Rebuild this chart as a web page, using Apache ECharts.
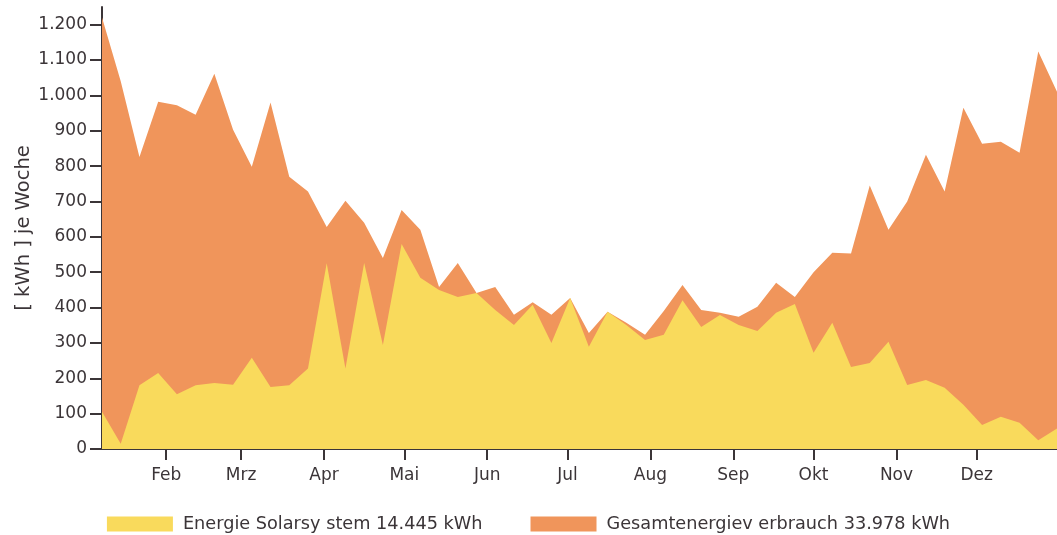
<!DOCTYPE html>
<html>
<head>
<meta charset="utf-8">
<script src="https://cdn.jsdelivr.net/npm/echarts@6/dist/echarts.min.js"></script>
<style>
  html, body { margin: 0; padding: 0; background: #fff; }
  #chart { width: 1057px; height: 535px; }
</style>
</head>
<body>
<div id="chart"></div>
<script>
// day of year (Jan 1 = 0) of each weekly value
const weekDays = [7, 14, 21, 28, 35, 42, 49, 56, 63, 70, 77, 84, 91, 98, 105, 112, 119, 126,
  133, 140, 147, 154, 161, 168, 175, 182, 189, 196, 203, 210, 217, 224, 231, 238, 245, 252,
  259, 266, 273, 280, 287, 294, 301, 308, 315, 322, 329, 336, 343, 350, 357, 364];

// kWh per week
const solar = [105, 15, 180, 215, 155, 180, 187, 182, 258, 175, 180, 228, 525, 228, 526, 294,
  580, 484, 450, 430, 441, 393, 351, 408, 300, 427, 289, 388, 351, 308, 323, 421, 345, 379,
  351, 334, 385, 410, 272, 357, 232, 243, 303, 181, 195, 173, 125, 68, 91, 74, 25, 58];

const total = [1220, 1040, 826, 982, 972, 945, 1061, 903, 798, 980, 770, 728, 628, 702, 640,
  540, 676, 620, 458, 526, 441, 458, 380, 415, 380, 427, 328, 388, 357, 323, 390, 464, 393,
  385, 374, 402, 470, 430, 500, 555, 553, 745, 620, 700, 832, 728, 965, 863, 869, 838, 1124, 1010];

const monthStarts = [31, 59, 90, 120, 151, 181, 212, 243, 273, 304, 334];
const monthNames = ['Feb', 'Mrz', 'Apr', 'Mai', 'Jun', 'Jul', 'Aug', 'Sep', 'Okt', 'Nov', 'Dez'];
const yTicks = [0, 100, 200, 300, 400, 500, 600, 700, 800, 900, 1000, 1100, 1200];

const solarName = 'Energie Solarsy stem 14.445 kWh';
const totalName = 'Gesamtenergiev erbrauch 33.978 kWh';

const axisColor = '#3b3538';
const textColor = '#3b3538';
const font = 'DejaVu Sans';

const fmtDE = v => String(v).replace(/\B(?=(\d{3})+(?!\d))/g, '.');

const chart = echarts.init(document.getElementById('chart'));

chart.setOption({
  animation: false,
  textStyle: { fontFamily: font, color: textColor },
  grid: { left: 102, top: 7, width: 960, bottom: 86, containLabel: false },
  legend: {
    top: 510,
    left: 'center',
    icon: 'rect',
    itemWidth: 66,
    itemHeight: 15,
    itemGap: 48,
    data: [solarName, totalName],
    textStyle: { fontFamily: font, fontSize: 17.7, color: textColor, padding: [0, 0, 0, 5] }
  },
  xAxis: {
    type: 'value',
    min: 7,
    max: 364,
    splitLine: { show: false },
    axisLine: { lineStyle: { color: axisColor, width: 2 } },
    axisTick: { customValues: monthStarts, length: 11, lineStyle: { color: axisColor, width: 2 } },
    axisLabel: {
      customValues: monthStarts,
      margin: 18,
      fontSize: 17,
      color: textColor,
      formatter: v => monthNames[monthStarts.indexOf(v)] || ''
    }
  },
  yAxis: {
    type: 'value',
    min: 0,
    max: 1250,
    name: '[ kWh ] je Woche',
    nameLocation: 'middle',
    nameGap: 68,
    nameMoveOverlap: false,
    nameRotate: 90,
    nameTextStyle: { fontSize: 19.5, color: textColor },
    splitLine: { show: false },
    axisLine: { show: true, lineStyle: { color: axisColor, width: 2 } },
    axisTick: { show: true, customValues: yTicks, length: 12, lineStyle: { color: axisColor, width: 2 } },
    axisLabel: {
      customValues: yTicks,
      margin: 15,
      fontSize: 17,
      color: textColor,
      formatter: v => fmtDE(v)
    }
  },
  series: [
    {
      name: totalName,
      type: 'line',
      data: weekDays.map((d, i) => [d, total[i]]),
      symbol: 'none',
      lineStyle: { width: 0 },
      itemStyle: { color: '#F0955B' },
      areaStyle: { color: '#F0955B', opacity: 1 }
    },
    {
      name: solarName,
      type: 'line',
      data: weekDays.map((d, i) => [d, solar[i]]),
      symbol: 'none',
      lineStyle: { width: 0 },
      itemStyle: { color: '#F9DA5C' },
      areaStyle: { color: '#F9DA5C', opacity: 1 }
    }
  ]
});
</script>
</body>
</html>
